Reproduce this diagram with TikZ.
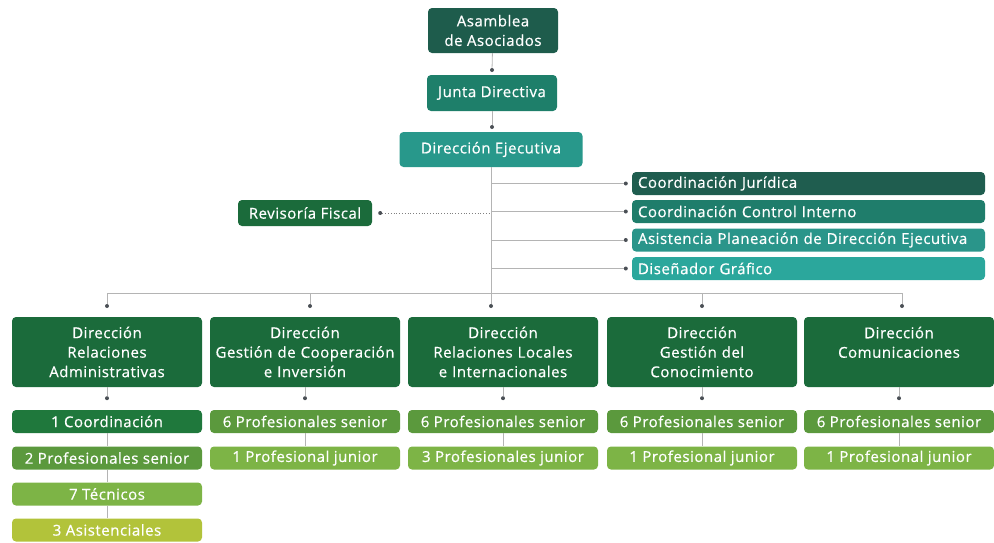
\documentclass[tikz,border=0pt]{standalone}
\usepackage{fontspec}
\setmainfont{Open Sans}[FakeBold=0.6,LetterSpace=3.5]
\definecolor{asam}{HTML}{1E5C4C}
\definecolor{junta}{HTML}{1E7F6A}
\definecolor{ejec}{HTML}{28988B}
\definecolor{jur}{HTML}{1F5D4F}
\definecolor{ctrl}{HTML}{1F7D6B}
\definecolor{asis}{HTML}{2A958A}
\definecolor{disen}{HTML}{2BA79C}
\definecolor{dirg}{HTML}{1B6B3B}
\definecolor{coord}{HTML}{1F783C}
\definecolor{senior}{HTML}{5B993D}
\definecolor{junior}{HTML}{7DB446}
\definecolor{asist}{HTML}{B2C33A}
\definecolor{linegray}{HTML}{B4B4B4}
\definecolor{dotgray}{HTML}{4A4F55}
\tikzset{
  box/.style={rounded corners=4pt, text=white, inner sep=0pt, align=center,
    font=\fontsize{15}{19.5}\selectfont},
  dirbox/.style={box, fill=dirg, minimum width=190pt, minimum height=70pt, text width=188pt},
  subbox/.style={box, minimum width=190pt, minimum height=23pt},
  sidebox/.style={box, minimum width=353pt, minimum height=23pt, inner xsep=6pt, text width=341pt, align=left},
  link/.style={draw=linegray, line width=0.8pt},
  pt/.style={circle, fill=dotgray, inner sep=0pt, minimum size=4pt},
}
\begin{document}
\begin{tikzpicture}[x=1pt,y=-1pt]
  \useasboundingbox (0,0) rectangle (994,542);
  \node [box, fill=asam, minimum width=130pt, minimum height=45pt](A) at (493,30.5) {Asamblea\\de Asociados};
  \node [box, fill=junta, minimum width=130pt, minimum height=36pt](J) at (492,93) {Junta Directiva};
  \node [box, fill=ejec, minimum width=183pt, minimum height=35pt](E) at (491,149.5) {Dirección Ejecutiva};
  \node [pt](dJ) at (492,70) {};
  \node [pt](dE) at (492,127) {};
  \draw [link] (A) -- (dJ);
  \draw [link] (J) -- (dE);

  \node [sidebox, fill=jur](S1) at (808.5,183.5) {Coordinación Jurídica};
  \node [sidebox, fill=ctrl](S2) at (808.5,211.5) {Coordinación Control Interno};
  \node [sidebox, fill=asis](S3) at (808.5,240) {Asistencia Planeación de Dirección Ejecutiva};
  \node [sidebox, fill=disen](S4) at (808.5,268.5) {Diseñador Gráfico};
  \foreach \i in {1,...,4} {
    \node [pt](dS\i) at ([xshift=-6pt]S\i.west) {};
    \draw [link] (dS\i) -- (dS\i -| E);
  }
  \node [box, fill=dirg, minimum width=134pt, minimum height=26pt](R) at (305,213) {Revisoría Fiscal};
  \node [pt](dR) at ([xshift=8pt]R.east) {};
  \draw [link, dotted, line width=1pt, draw=gray] (dR) -- (dR -| E);

  \node [dirbox](D1) at (107,352) {Dirección\\Relaciones\\Administrativas};
  \node [dirbox](D2) at (305,352) {Dirección\\Gestión de Cooperación\\e Inversión};
  \node [dirbox](D3) at (503,352) {Dirección\\Relaciones Locales\\e Internacionales};
  \node [dirbox](D4) at (702,352) {Dirección\\Gestión del\\Conocimiento};
  \node [dirbox](D5) at (899,352) {Dirección\\Comunicaciones\\\mbox{}};
  \node [pt](b1) at (107,306) {};
  \node [pt](b2) at (310,306) {};
  \node [pt](b3) at (491,306) {};
  \node [pt](b4) at (702,306) {};
  \node [pt](b5) at (902,306) {};
  \coordinate (bus) at (0,293);
  \draw [link] (E) -- (b3);
  \draw [link] (b1) |- (bus -| b5) -- (b5);
  \foreach \i in {2,4} \draw [link] (b\i) -- (b\i |- bus);

  \node [subbox, fill=coord](C1) at (107,421.5) {1 Coordinación};
  \node [subbox, fill=senior](C2) at (107,458) {2 Profesionales senior};
  \node [subbox, fill=junior](C3) at (107,494) {7 Técnicos};
  \node [subbox, fill=asist](C4) at (107,530) {3 Asistenciales};
  \node [subbox, fill=senior](G1) at (305,421.5) {6 Profesionales senior};
  \node [subbox, fill=junior](G2) at (305,458) {1 Profesional junior};
  \node [subbox, fill=senior](L1) at (503,421.5) {6 Profesionales senior};
  \node [subbox, fill=junior](L2) at (503,458) {3 Profesionales junior};
  \node [subbox, fill=senior](K1) at (702,421.5) {6 Profesionales senior};
  \node [subbox, fill=junior](K2) at (702,458) {1 Profesional junior};
  \node [subbox, fill=senior](M1) at (899,421.5) {6 Profesionales senior};
  \node [subbox, fill=junior](M2) at (899,458) {1 Profesional junior};
  \foreach \d/\s in {D1/C1,D2/G1,D3/L1,D4/K1,D5/M1} {
    \node [pt](p\s) at ([yshift=-11pt]\d.south) {};
    \draw [link] (\d) -- (p\s);
  }
  \draw [link] (C1) -- (C2);
  \draw [link] (C2) -- (C3);
  \draw [link] (C3) -- (C4);
  \draw [link] (G1) -- (G2);
  \draw [link] (L1) -- (L2);
  \draw [link] (K1) -- (K2);
  \draw [link] (M1) -- (M2);
\end{tikzpicture}
\end{document}
